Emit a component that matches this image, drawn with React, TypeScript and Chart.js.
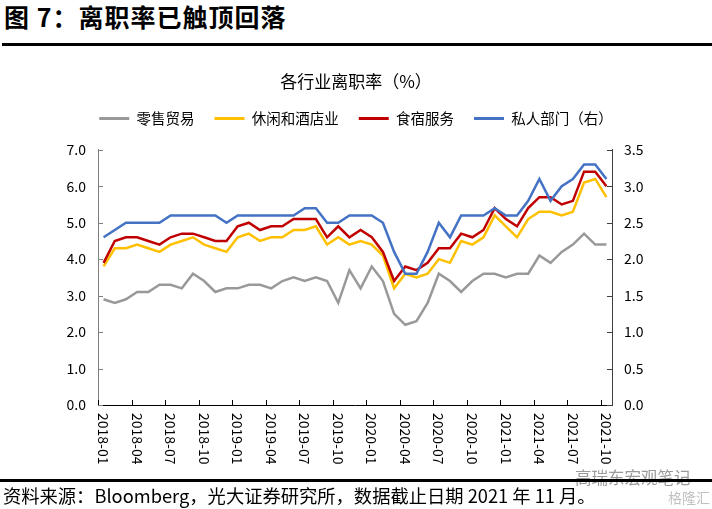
import React, { useEffect, useRef } from 'react';
import { Chart, registerables } from 'chart.js';

Chart.register(...registerables);

const FONT = "'Noto Sans CJK SC', 'Noto Sans', sans-serif";

const categories = [
  '2018-01', '2018-02', '2018-03', '2018-04', '2018-05', '2018-06', '2018-07', '2018-08', '2018-09', '2018-10', '2018-11', '2018-12',
  '2019-01', '2019-02', '2019-03', '2019-04', '2019-05', '2019-06', '2019-07', '2019-08', '2019-09', '2019-10', '2019-11', '2019-12',
  '2020-01', '2020-02', '2020-03', '2020-04', '2020-05', '2020-06', '2020-07', '2020-08', '2020-09', '2020-10', '2020-11', '2020-12',
  '2021-01', '2021-02', '2021-03', '2021-04', '2021-05', '2021-06', '2021-07', '2021-08', '2021-09', '2021-10',
];

const xTickLabels = [
  '2018-01', '2018-04', '2018-07', '2018-10', '2019-01', '2019-04', '2019-07', '2019-10',
  '2020-01', '2020-04', '2020-07', '2020-10', '2021-01', '2021-04', '2021-07', '2021-10',
];

const seriesNames = ['零售贸易', '休闲和酒店业', '食宿服务', '私人部门（右）'];

const retail = [
  2.9, 2.8, 2.9, 3.1, 3.1, 3.3, 3.3, 3.2, 3.6, 3.4,
  3.1, 3.2, 3.2, 3.3, 3.3, 3.2, 3.4, 3.5, 3.4, 3.5,
  3.4, 2.8, 3.7, 3.2, 3.8, 3.4, 2.5, 2.2, 2.3, 2.8,
  3.6, 3.4, 3.1, 3.4, 3.6, 3.6, 3.5, 3.6, 3.6, 4.1,
  3.9, 4.2, 4.4, 4.7, 4.4, 4.4,
];

const leisure = [
  3.8, 4.3, 4.3, 4.4, 4.3, 4.2, 4.4, 4.5, 4.6, 4.4,
  4.3, 4.2, 4.6, 4.7, 4.5, 4.6, 4.6, 4.8, 4.8, 4.9,
  4.4, 4.6, 4.4, 4.5, 4.4, 4.1, 3.2, 3.6, 3.5, 3.6,
  4.0, 3.9, 4.5, 4.4, 4.6, 5.2, 4.9, 4.6, 5.1, 5.3,
  5.3, 5.2, 5.3, 6.1, 6.2, 5.7,
];

const foodLodging = [
  3.9, 4.5, 4.6, 4.6, 4.5, 4.4, 4.6, 4.7, 4.7, 4.6,
  4.5, 4.5, 4.9, 5.0, 4.8, 4.9, 4.9, 5.1, 5.1, 5.1,
  4.6, 4.9, 4.6, 4.8, 4.6, 4.2, 3.4, 3.8, 3.7, 3.9,
  4.3, 4.3, 4.7, 4.6, 4.8, 5.4, 5.1, 4.9, 5.4, 5.7,
  5.7, 5.5, 5.6, 6.4, 6.4, 6.0,
];

const privateSector = [
  2.3, 2.4, 2.5, 2.5, 2.5, 2.5, 2.6, 2.6, 2.6, 2.6,
  2.6, 2.5, 2.6, 2.6, 2.6, 2.6, 2.6, 2.6, 2.7, 2.7,
  2.5, 2.5, 2.6, 2.6, 2.6, 2.5, 2.1, 1.8, 1.8, 2.1,
  2.5, 2.3, 2.6, 2.6, 2.6, 2.7, 2.6, 2.6, 2.8, 3.1,
  2.8, 3.0, 3.1, 3.3, 3.3, 3.1,
];

const colors = ['#999999', '#FFC000', '#C00000', '#4472C4'];

const legendGap = {
  id: 'legendGap',
  beforeLayout(chart: any) {
    const lg = chart.legend;
    if (lg && !lg._gapPatched) {
      const orig = lg.fit;
      lg.fit = function () {
        orig.call(this);
        this.height += 14;
      };
      lg._gapPatched = true;
    }
  },
};

const axisDecor = {
  id: 'axisDecor',
  afterDraw(chart: any) {
    const { ctx, chartArea: area, scales } = chart;
    const x = scales.x;
    const yL = scales.yL;
    const yR = scales.yR;
    const half = (x.getPixelForValue(1) - x.getPixelForValue(0)) / 2;
    ctx.save();
    ctx.lineWidth = 1;
    ctx.strokeStyle = '#7f7f7f';
    for (const t of yL.ticks) {
      const py = Math.round(yL.getPixelForValue(t.value)) + 0.5;
      ctx.beginPath();
      ctx.moveTo(area.left, py);
      ctx.lineTo(area.left + 5, py);
      ctx.stroke();
    }
    ctx.strokeStyle = '#404040';
    for (const t of yR.ticks) {
      const py = Math.round(yR.getPixelForValue(t.value)) + 0.5;
      ctx.beginPath();
      ctx.moveTo(area.right - 5, py);
      ctx.lineTo(area.right, py);
      ctx.stroke();
    }
    ctx.strokeStyle = '#000';
    for (const lab of xTickLabels) {
      const i = categories.indexOf(lab);
      const px = Math.round(x.getPixelForValue(i) - half) + 0.5;
      ctx.beginPath();
      ctx.moveTo(px, area.bottom);
      ctx.lineTo(px, area.bottom - 5);
      ctx.stroke();
    }
    ctx.font = `14px ${FONT}`;
    ctx.fillStyle = '#000';
    ctx.textAlign = 'left';
    ctx.textBaseline = 'middle';
    for (const lab of xTickLabels) {
      const i = categories.indexOf(lab);
      const px = x.getPixelForValue(i);
      ctx.save();
      ctx.translate(px, area.bottom + 8);
      ctx.rotate(Math.PI / 2);
      ctx.fillText(lab, 0, 0);
      ctx.restore();
    }
    ctx.restore();
  },
};

export default function App() {
  const ref = useRef<HTMLCanvasElement | null>(null);

  useEffect(() => {
    if (!ref.current) return;
    Chart.defaults.font.family = FONT;
    const mk = (label: string, data: number[], color: string, axis: string, order: number) => ({
      label,
      data,
      borderColor: color,
      backgroundColor: color,
      borderWidth: 2.5,
      pointRadius: 0,
      tension: 0,
      fill: false,
      yAxisID: axis,
      order,
    });
    const chart = new Chart(ref.current, {
      type: 'line',
      data: {
        labels: categories,
        datasets: [
          mk(seriesNames[0], retail, colors[0], 'yL', 4),
          mk(seriesNames[1], leisure, colors[1], 'yL', 3),
          mk(seriesNames[2], foodLodging, colors[2], 'yL', 2),
          mk(seriesNames[3], privateSector, colors[3], 'yR', 1),
        ],
      },
      options: {
        responsive: false,
        animation: false,
        events: [],
        layout: { padding: 0 },
        plugins: {
          title: {
            display: true,
            text: '各行业离职率（%）',
            color: '#000',
            font: { size: 17, weight: 'normal', family: FONT, lineHeight: 1.1 },
            padding: { top: 17.6, bottom: 0 },
          },
          legend: {
            display: true,
            position: 'top',
            labels: {
              boxWidth: 30,
              boxHeight: 3,
              padding: 20,
              color: '#000',
              font: { size: 14.5, family: FONT },
              generateLabels: (c: any) =>
                c.data.datasets.map((ds: any, i: number) => ({
                  text: ds.label,
                  fillStyle: ds.borderColor,
                  strokeStyle: ds.borderColor,
                  lineWidth: 0,
                  hidden: false,
                  datasetIndex: i,
                  fontColor: '#000',
                })),
            },
          },
          tooltip: { enabled: false },
        },
        scales: {
          x: {
            type: 'category',
            offset: true,
            grid: { display: false, offset: true },
            border: { display: true, color: '#000', width: 1 },
            ticks: { display: false },
            afterFit: (s: any) => {
              s.height = 75;
            },
          },
          yL: {
            type: 'linear',
            position: 'left',
            min: 0,
            max: 7,
            ticks: {
              stepSize: 1,
              color: '#000',
              padding: 12,
              font: { size: 14, family: FONT },
              callback: (v: any) => Number(v).toFixed(1),
            },
            grid: { drawOnChartArea: false, drawTicks: false },
            border: { display: true, color: '#7f7f7f', width: 1 },
            afterFit: (s: any) => {
              s.width = 98;
            },
          },
          yR: {
            type: 'linear',
            position: 'right',
            min: 0,
            max: 3.5,
            ticks: {
              stepSize: 0.5,
              color: '#000',
              padding: 12,
              font: { size: 14, family: FONT },
              callback: (v: any) => Number(v).toFixed(1),
            },
            grid: { drawOnChartArea: false, drawTicks: false },
            border: { display: true, color: '#404040', width: 1 },
            afterFit: (s: any) => {
              s.width = 100;
            },
          },
        },
      } as any,
      plugins: [legendGap, axisDecor],
    });
    return () => chart.destroy();
  }, []);

  return (
    <div
      style={{
        position: 'absolute',
        left: 0,
        top: 0,
        width: 712,
        height: 509,
        background: '#fff',
        fontFamily: FONT,
        color: '#000',
        overflow: 'hidden',
      }}
    >
      <div
        style={{
          position: 'absolute',
          left: 4,
          top: 0,
          height: 32,
          lineHeight: '32px',
          fontSize: 25,
          letterSpacing: 1,
          fontWeight: 700,
          whiteSpace: 'nowrap',
        }}
      >
        图 7：离职率已触顶回落
      </div>
      <div style={{ position: 'absolute', left: 2, top: 43, width: 710, height: 3, background: '#000' }} />
      <div style={{ position: 'absolute', left: 0, top: 55, width: 712, height: 425 }}>
        <canvas ref={ref} width={712} height={425} style={{ width: 712, height: 425, display: 'block' }} />
      </div>
      <div
        style={{
          position: 'absolute',
          left: 575,
          top: 466,
          fontSize: 16.5,
          lineHeight: '22px',
          color: 'rgba(120,120,120,0.75)',
          whiteSpace: 'nowrap',
        }}
      >
        高瑞东宏观笔记
      </div>
      <div style={{ position: 'absolute', left: 0, top: 479, width: 712, height: 3, background: '#000' }} />
      <div
        style={{
          position: 'absolute',
          left: 3,
          top: 484,
          fontSize: 18.3,
          lineHeight: '22px',
          whiteSpace: 'nowrap',
        }}
      >
        资料来源：Bloomberg，光大证券研究所，数据截止日期 2021 年 11 月。
      </div>
      <div
        style={{
          position: 'absolute',
          left: 668,
          top: 487,
          fontSize: 14,
          lineHeight: '20px',
          color: 'rgba(150,150,150,0.6)',
          whiteSpace: 'nowrap',
        }}
      >
        格隆汇
      </div>
    </div>
  );
}
